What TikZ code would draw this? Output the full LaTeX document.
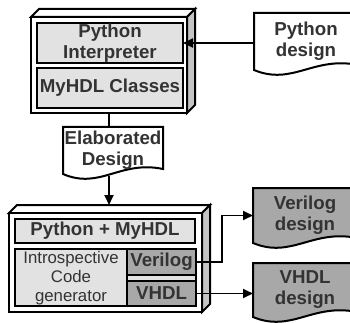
\documentclass[tikz,border=0pt]{standalone}
\usepackage{fontspec}
\setmainfont{Liberation Sans}
\usetikzlibrary{arrows.meta,calc}
\definecolor{txt}{HTML}{333333}
\definecolor{lightf}{HTML}{E2E2E2}
\definecolor{darkf}{HTML}{A8A8A8}
\definecolor{sidef}{HTML}{C4C4C4}
\pgfdeclarelayer{bg}
\pgfsetlayers{bg,main}
\newcommand{\mydocshape}[2]{%
  \draw[line width=2pt, fill=#2] (#1.south west) -- (#1.north west) -- (#1.north east)
    -- ($(#1.south east)+(0,-5)$)
    .. controls ($(#1.south west)!0.57!(#1.south east)+(0,-14)$) and ($(#1.south west)!0.37!(#1.south east)+(0,16)$) .. (#1.south west) -- cycle;}
\newcommand{\mythreed}[1]{%
  \draw[line width=2pt, fill=white] (#1.north west) -- ++(8,-8) -- ($(#1.north east)+(8,-8)$) -- (#1.north east) -- cycle;
  \draw[line width=2pt, fill=sidef] (#1.north east) -- ++(8,-8) -- ($(#1.south east)+(8,-8)$) -- (#1.south east) -- cycle;
  \draw[line width=2.6pt, fill=white] (#1.north west) rectangle (#1.south east);}
\begin{document}
\begin{tikzpicture}[x=1pt,y=-1pt,
  every node/.style={text=txt, font=\fontsize{18.7}{21}\selectfont\bfseries, align=center, inner sep=0pt, outer sep=0pt},
  inbox/.style={draw=black, line width=2.5pt, fill=lightf},
  hdlbox/.style={draw=black, line width=2.5pt, fill=darkf},
  conn/.style={line width=1.8pt},
  arr/.style={conn, -{Triangle[length=10pt,width=9pt]}},
  introtext/.style={font=\fontsize{16.8}{19}\selectfont\mdseries}
]
\useasboundingbox (0,0) rectangle (350,323);
\clip (0,0) rectangle (350,323);

% geometry nodes
\node[minimum width=156pt, minimum height=96pt] (topbox) at (109,65) {};
\node[minimum width=193pt, minimum height=99pt] (botbox) at (105.5,262.5) {};
\coordinate (botback) at ($(botbox.north)+(0,-8)$);
\node[minimum width=104pt, minimum height=57pt] (pydoc) at (306,41.5) {Python\\design};
\node[minimum width=100pt, minimum height=47pt] (elab) at (113,150.5) {Elaborated\\Design};
\node[minimum width=104pt, minimum height=55pt] (vdoc) at (305,215.5) {Verilog\\design};
\node[minimum width=104pt, minimum height=54pt] (hdoc) at (305,290) {VHDL\\design};

\begin{pgfonlayer}{bg}
  \draw[arr] ($(topbox.south |- elab.south)+(0,2)$) -- (topbox.south |- botback);
  \mythreed{topbox}
  \mythreed{botbox}
  \mydocshape{pydoc}{white}
  \mydocshape{elab}{white}
  \mydocshape{vdoc}{darkf}
  \mydocshape{hdoc}{darkf}
\end{pgfonlayer}

% top box content
\node[inbox, minimum width=146pt, minimum height=40pt] (interp) at (110,43) {Python\\Interpreter};
\node[inbox, minimum width=146pt, minimum height=40pt] (classes) at (110,88) {MyHDL Classes};

% bottom box content
\node[inbox, minimum width=180pt, minimum height=24pt] (pymy) at (105,231) {Python + MyHDL};
\node[inbox, minimum width=181pt, minimum height=57pt] (lower) at (105.5,277.5) {};
\node[introtext] (intro) at (71,278) {Introspective\\Code\\generator};
\node[hdlbox, minimum width=69pt, minimum height=26pt] (verilog) at (161.5,262) {Verilog};
\node[hdlbox, minimum width=69pt, minimum height=25pt] (vhdl) at (161.5,293.5) {VHDL};
\draw[line width=2.5pt] (lower.north -| verilog.west) -- (lower.south -| verilog.west);

% connectors
\draw[arr] (pydoc.west |- interp.east) -- (interp.east);
\draw[conn] (topbox.south) -- (topbox.south |- elab.north);
\draw[arr] (verilog.east) -- ++(26,0) |- (vdoc.west);
\draw[arr] (vhdl.east) -- (vhdl.east -| hdoc.west);
\end{tikzpicture}
\end{document}
